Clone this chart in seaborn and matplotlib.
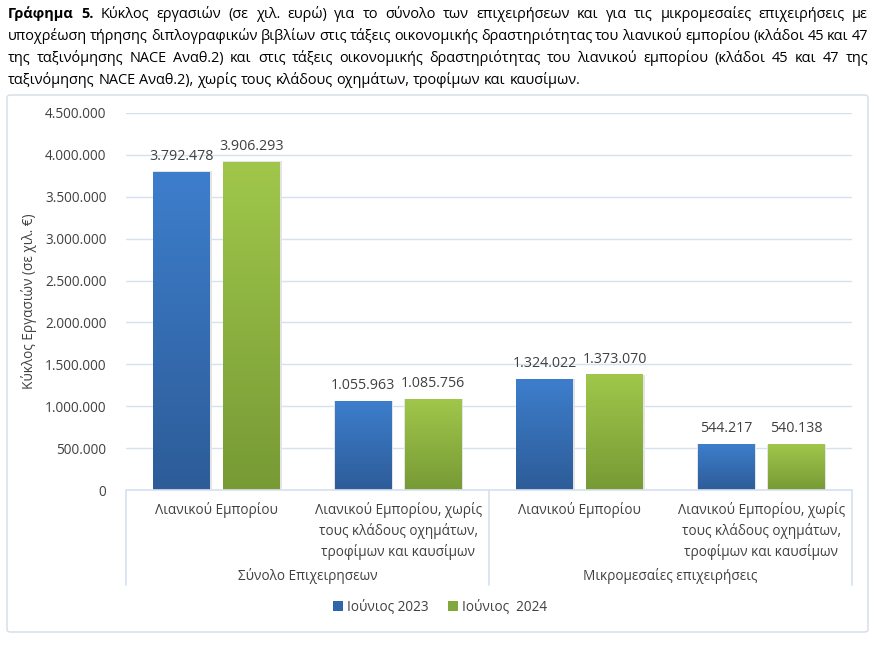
import numpy as np
import pandas as pd
import matplotlib
matplotlib.use("Agg")
import matplotlib.pyplot as plt
import matplotlib.transforms as mtransforms
from matplotlib.patches import Patch, FancyBboxPatch, Rectangle
from matplotlib.colors import to_rgb
import seaborn as sns

# ---------------- data ----------------
groups = ["Σύνολο Επιχειρησεων", "Μικρομεσαίες επιχειρήσεις"]
categories = [
    "Λιανικού Εμπορίου",
    "Λιανικού Εμπορίου, χωρίς\nτους κλάδους οχημάτων,\nτροφίμων και καυσίμων",
    "Λιανικού Εμπορίου",
    "Λιανικού Εμπορίου, χωρίς\nτους κλάδους οχημάτων,\nτροφίμων και καυσίμων",
]
category_group = [0, 0, 1, 1]
series_names = ["Ιούνιος 2023", "Ιούνιος  2024"]
values_2023 = [3792478, 1055963, 1324022, 544217]
values_2024 = [3906293, 1085756, 1373070, 540138]
y_ticks = [0, 500000, 1000000, 1500000, 2000000, 2500000, 3000000, 3500000, 4000000, 4500000]
y_label = "Κύκλος Εργασιών (σε χιλ. €)"
title_lines = [
    "Γράφημα 5. Κύκλος εργασιών (σε χιλ. ευρώ) για το σύνολο των επιχειρήσεων και για τις μικρομεσαίες επιχειρήσεις με",
    "υποχρέωση τήρησης διπλογραφικών βιβλίων στις τάξεις οικονομικής δραστηριότητας του λιανικού εμπορίου (κλάδοι 45 και 47",
    "της ταξινόμησης NACE Αναθ.2) και στις τάξεις οικονομικής δραστηριότητας του λιανικού εμπορίου (κλάδοι 45 και 47 της",
    "ταξινόμησης NACE Αναθ.2), χωρίς τους κλάδους οχημάτων, τροφίμων και καυσίμων.",
]

# ---------------- style ----------------
sns.set_style("white")
plt.rcParams["font.family"] = ["Open Sans", "DejaVu Sans"]
TXT = "#404040"
GRID = "#D6E1F0"
SERIES_GRAD = [("#3D7ECC", "#2D5C98"), ("#A0C74B", "#779A35")]
SERIES_SOLID = ["#2F65AA", "#80A83C"]

W_PX, H_PX = 879, 648
fig = plt.figure(figsize=(W_PX / 100, H_PX / 100), dpi=100)
fig.patch.set_facecolor("white")

def fx(px):
    return px / W_PX

def fy(py):
    return 1 - py / H_PX

# outer frame
frame = FancyBboxPatch((fx(7), fy(632)), fx(868) - fx(7), fy(95) - fy(632),
                       boxstyle="round,pad=0,rounding_size=0.004",
                       transform=fig.transFigure, facecolor="none",
                       edgecolor="#D3DCE8", linewidth=1.0, zorder=-5)
fig.patches.append(frame)

ax = fig.add_axes([fx(126), fy(490), fx(852) - fx(126), fy(113) - fy(490)])
ax.set_facecolor("none")

keys = [f"c{i}" for i in range(len(categories))]
df = pd.DataFrame({
    "key": keys * 2,
    "value": values_2023 + values_2024,
    "series": [series_names[0]] * 4 + [series_names[1]] * 4,
})
sns.barplot(data=df, x="key", y="value", hue="series", order=keys,
            hue_order=series_names, palette=SERIES_SOLID, saturation=1,
            width=0.772, gap=0.187, legend=False, ax=ax, zorder=3,
            errorbar=None)

ax.set_xlim(-0.5, len(keys) - 0.5)
ax.set_ylim(0, 4500000)
ax.set_yticks(y_ticks)
ax.set_yticklabels([f"{v:,}".replace(",", ".") for v in y_ticks], color=TXT, fontsize=9.8)
ax.tick_params(axis="y", length=0, pad=14)
ax.set_xticks([])
ax.set_xlabel("")
ax.set_ylabel(y_label, color=TXT, fontsize=9.8)
ax.yaxis.set_label_coords(-0.122, 0.5)
for s in ax.spines.values():
    s.set_visible(False)
ax.grid(axis="y", color=GRID, linewidth=1.0, zorder=0)
ax.set_axisbelow(True)

# gradient bars
def grad_img(top, bot):
    t = np.array(to_rgb(top))
    b = np.array(to_rgb(bot))
    f = np.linspace(0, 1, 256)[:, None]
    arr = b * (1 - f) + t * f
    return arr[:, None, :]

containers = list(ax.containers)
for ci, cont in enumerate(containers):
    top, bot = SERIES_GRAD[ci]
    for p in cont.patches:
        x0, w, h = p.get_x(), p.get_width(), p.get_height()
        # faint shadow
        ax.add_patch(Rectangle((x0 - 0.004, 0), w + 0.012, h * 1.004,
                               facecolor="#E4E4E4", edgecolor="none", zorder=2.5))
        ax.imshow(grad_img(top, bot), extent=[x0, x0 + w, 0, h], origin="lower",
                  aspect="auto", zorder=3, interpolation="bilinear")
        p.set_facecolor("none")
        p.set_edgecolor("none")
        ax.annotate(f"{int(round(h)):,}".replace(",", "."), (x0 + w / 2, h),
                    xytext=(0, 6), textcoords="offset points", ha="center",
                    va="bottom", color=TXT, fontsize=10.3)
ax.set_xlim(-0.5, len(keys) - 0.5)
ax.set_ylim(0, 4500000)

# bottom axis line and category separators
trans = mtransforms.blended_transform_factory(ax.transData, ax.transAxes)
ax.plot([-0.5, 3.5], [0, 0], transform=trans, color=GRID, lw=1.2, clip_on=False, zorder=4)
sep_bottom = -(585 - 490) / 377
for xs in [-0.5, 1.5, 3.5]:
    ax.plot([xs, xs], [0, sep_bottom], transform=trans, color=GRID, lw=1.2, clip_on=False)

for i, lab in enumerate(categories):
    ax.text(i, -(502 - 490) / 377, lab, transform=trans, ha="center", va="top",
            color=TXT, fontsize=9.8, linespacing=1.42, multialignment="center")
for g, name in enumerate(groups):
    xs = [i for i, cg in enumerate(category_group) if cg == g]
    ax.text(np.mean(xs), -(576 - 490) / 377, name, transform=trans, ha="center",
            va="center", color=TXT, fontsize=9.8)

# legend
handles = [Patch(facecolor=c, edgecolor="none") for c in SERIES_SOLID]
fig.legend(handles, series_names, loc="center", bbox_to_anchor=(fx(440), fy(607)),
           ncol=2, frameon=False, handlelength=0.75, handleheight=0.75,
           handletextpad=0.3, columnspacing=1.4, fontsize=9.8, labelcolor=TXT)

# justified title
r = fig.canvas.get_renderer()
probe = fig.text(0, 0, title_lines[3], fontsize=10)
w4 = probe.get_window_extent(r).width
probe.remove()
FS = 10 * 572 / w4

def measure(s, bold=False):
    t = fig.text(0, 0, s, fontsize=FS, fontweight="bold" if bold else "normal")
    w = t.get_window_extent(r).width
    t.remove()
    return w

space_w = measure("a a") - measure("aa")
left_px, right_px = 8, 868
baselines = [18, 40, 62, 84]
for li, line in enumerate(title_lines):
    words = line.split(" ")
    bolds = [li == 0 and wi < 2 for wi in range(len(words))]
    widths = [measure(w, b) for w, b in zip(words, bolds)]
    if li < 3:
        gap = (right_px - left_px - sum(widths)) / (len(words) - 1)
    else:
        gap = space_w
    x = left_px
    for w, b, wd in zip(words, bolds, widths):
        fig.text(fx(x), fy(baselines[li]), w, fontsize=FS, va="baseline", ha="left",
                 fontweight="bold" if b else "normal", color="black")
        x += wd + gap

fig.savefig("out.png", dpi=100, facecolor="white")
